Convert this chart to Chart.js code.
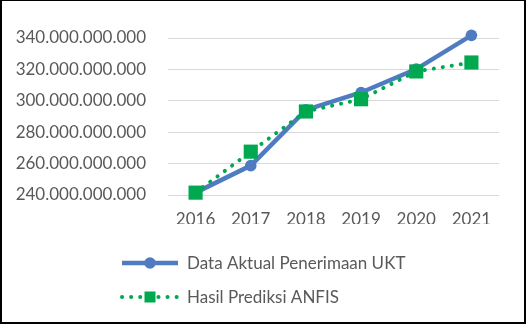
<!DOCTYPE html>
<html>
<head>
<meta charset="utf-8">
<script src="https://cdn.jsdelivr.net/npm/chart.js@4/dist/chart.umd.min.js"></script>
<style>
  html, body { margin: 0; padding: 0; background: #fff; }
  #wrap { position: relative; width: 526px; height: 324px; }
  #chart { position: absolute; left: 0; top: 0; }
  #frame { position: absolute; left: 0; top: 0; width: 526px; height: 324px; box-sizing: border-box;
           border: 2px solid #000; border-top-width: 1px; pointer-events: none; }
</style>
</head>
<body>
<div id="wrap">
  <canvas id="chart" width="526" height="324"></canvas>
  <div id="frame"></div>
</div>
<script>
// Penerimaan UKT per tahun (Rupiah)
const years = ['2016', '2017', '2018', '2019', '2020', '2021'];
const aktual = [241500000000, 258700000000, 294200000000, 305300000000, 320200000000, 341700000000];
const prediksi = [241500000000, 267600000000, 293200000000, 301000000000, 318700000000, 324400000000];
const yMin = 240000000000;
const yMax = 340000000000;
const yStep = 20000000000;

const BLUE = '#4F7CC1';
const GREEN = '#00A94F';
const TEXT = '#595959';
const FONT = 'Lato, "Open Sans", sans-serif';

function rupiah(v) {
  return String(Math.round(v)).replace(/\B(?=(\d{3})+(?!\d))/g, '.');
}

// Two-row legend below the plot, each row left-aligned
const stackedLegend = {
  id: 'stackedLegend',
  afterDraw(chart) {
    const ctx = chart.ctx;
    const rows = [263, 297];
    const x0 = 122, x1 = 178, tx = 187;
    chart.data.datasets.forEach((ds, i) => {
      const y = rows[i];
      ctx.save();
      ctx.strokeStyle = ds.borderColor;
      ctx.lineWidth = ds.borderWidth;
      ctx.lineCap = ds.borderCapStyle || 'butt';
      ctx.setLineDash(ds.borderDash || []);
      ctx.beginPath();
      ctx.moveTo(x0, y);
      ctx.lineTo(x1, y);
      ctx.stroke();
      ctx.setLineDash([]);
      ctx.fillStyle = ds.pointBackgroundColor;
      const cx = (x0 + x1) / 2;
      if (ds.pointStyle === 'rect') {
        ctx.fillRect(cx - 5.5, y - 5.5, 11, 11);
      } else {
        ctx.beginPath();
        ctx.arc(cx, y, 5.8, 0, Math.PI * 2);
        ctx.fill();
      }
      ctx.fillStyle = TEXT;
      ctx.font = '17px ' + FONT;
      ctx.textBaseline = 'middle';
      ctx.textAlign = 'left';
      ctx.fillText(ds.label, tx, y + 1);
      ctx.restore();
    });
  }
};

new Chart(document.getElementById('chart'), {
  type: 'line',
  data: {
    labels: years,
    datasets: [
      {
        label: 'Data Aktual Penerimaan UKT',
        data: aktual,
        borderColor: BLUE,
        backgroundColor: BLUE,
        pointBackgroundColor: BLUE,
        pointBorderColor: BLUE,
        borderWidth: 4.5,
        pointStyle: 'circle',
        pointRadius: 5.8,
        pointBorderWidth: 0,
        tension: 0,
        clip: false,
        order: 1
      },
      {
        label: 'Hasil Prediksi ANFIS',
        data: prediksi,
        borderColor: GREEN,
        backgroundColor: GREEN,
        pointBackgroundColor: GREEN,
        pointBorderColor: GREEN,
        borderWidth: 4,
        borderDash: [0.1, 9],
        borderCapStyle: 'round',
        pointStyle: 'rect',
        pointRadius: 10,
        pointBorderWidth: 0,
        tension: 0,
        clip: false,
        order: 0
      }
    ]
  },
  options: {
    responsive: false,
    animation: false,
    events: [],
    layout: { padding: { left: 0, right: 27, top: 38, bottom: 100 } },
    plugins: { legend: { display: false }, tooltip: { enabled: false } },
    scales: {
      x: {
        offset: true,
        grid: { display: false, drawTicks: false },
        border: { display: false },
        ticks: { color: TEXT, font: { family: FONT, size: 17 }, padding: 14, maxRotation: 0 },
        afterFit(scale) { scale.height = 29; }
      },
      y: {
        min: yMin,
        max: yMax,
        grid: { color: '#D9D9D9', lineWidth: 1, drawTicks: false },
        border: { display: false },
        ticks: {
          stepSize: yStep,
          color: TEXT,
          font: { family: FONT, size: 17 },
          padding: 22,
          callback: (v) => rupiah(v)
        },
        afterFit(scale) { scale.width = 168; }
      }
    }
  },
  plugins: [stackedLegend]
});
</script>
</body>
</html>
